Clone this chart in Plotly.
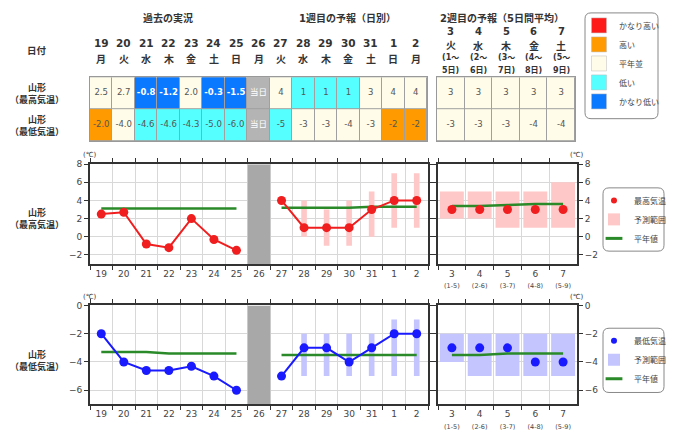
import plotly.graph_objects as go

W, H = 680, 434
FONT = "DejaVu Sans, Noto Sans CJK JP, sans-serif"

# ---- data ----
days = ["19", "20", "21", "22", "23", "24", "25", "26", "27", "28", "29", "30", "31", "1", "2"]
weekdays = ["月", "火", "水", "木", "金", "土", "日", "月", "火", "水", "木", "金", "土", "日", "月"]
today = "26"
n_past = 7

max_temp = [2.5, 2.7, -0.8, -1.2, 2.0, -0.3, -1.5, None, 4, 1, 1, 1, 3, 4, 4]
max_lo = [None, None, None, None, None, None, None, None, None, 0, -1, -1, 0, 1, 1]
max_hi = [None, None, None, None, None, None, None, None, None, 4, 3, 4, 5, 7, 7]
max_normal = [3.1, 3.1, 3.1, 3.1, 3.1, 3.1, 3.1, None, 3.2, 3.2, 3.2, 3.2, 3.3, 3.3, 3.3]

min_temp = [-2.0, -4.0, -4.6, -4.6, -4.3, -5.0, -6.0, None, -5, -3, -3, -4, -3, -2, -2]
min_lo = [None, None, None, None, None, None, None, None, None, -5, -5, -5, -5, -5, -5]
min_hi = [None, None, None, None, None, None, None, None, None, -2, -2, -2, -2, -1, -1]
min_normal = [-3.3, -3.3, -3.3, -3.4, -3.4, -3.4, -3.4, None, -3.5, -3.5, -3.5, -3.5, -3.5, -3.5, -3.5]

week_days = ["3", "4", "5", "6", "7"]
week_wd = ["火", "水", "木", "金", "土"]
week_start = [1, 2, 3, 4, 5]
week_end = [5, 6, 7, 8, 9]

week_max = [3, 3, 3, 3, 3]
week_max_lo = [2, 2, 1, 1, 1]
week_max_hi = [5, 5, 5, 5, 6]
week_max_normal = [3.4, 3.4, 3.5, 3.6, 3.6]

week_min = [-3, -3, -3, -4, -4]
week_min_lo = [-4, -5, -5, -5, -5]
week_min_hi = [-2, -2, -2, -2, -2]
week_min_normal = [-3.5, -3.5, -3.4, -3.4, -3.4]

# class: 0 かなり高い, 1 高い, 2 平年並, 3 低い, 4 かなり低い, 5 当日
class_names = ["かなり高い", "高い", "平年並", "低い", "かなり低い"]
class_colors = ["#ff1a1a", "#ff9a00", "#fffcea", "#55ffff", "#0a78ff", "#b4b4b4"]
max_class = [2, 2, 4, 4, 2, 4, 4, 5, 2, 3, 3, 3, 2, 2, 2]
min_class = [1, 2, 3, 3, 3, 3, 3, 5, 3, 2, 2, 2, 2, 1, 1]
week_max_class = [2, 2, 2, 2, 2]
week_min_class = [2, 2, 2, 2, 2]

MAX_RANGE = [-3, 8]
MIN_RANGE = [-7, 0]
GREEN = "#2a8a2a"


def fx(p):
    return p / W


def fy(p):
    return 1 - p / H


def cell_text(v, i):
    if v is None:
        return "当日"
    return f"{v:.1f}" if i < n_past else f"{v:g}"


def text_color(c):
    return "white" if c in (4, 5) else "#555"


def bold_if(s, c):
    return f"<b>{s}</b>" if c == 4 else s


n = len(class_colors)
scale = []
for i, col in enumerate(class_colors):
    scale += [[i / n, col], [(i + 1) / n, col]]

fig = go.Figure()


# ---- tables ----
def add_table(xa, ya, cats, classes_rows, texts_rows):
    fig.add_trace(go.Heatmap(
        x=cats, y=[0, 1], z=classes_rows, colorscale=scale, zmin=-0.5, zmax=n - 0.5,
        xgap=1, ygap=1, showscale=False, hoverinfo="skip", xaxis=xa, yaxis=ya,
    ))
    xs, ys, ts, cs = [], [], [], []
    for r, (cls_row, txt_row) in enumerate(zip(classes_rows, texts_rows)):
        for c, cl, t in zip(cats, cls_row, txt_row):
            xs.append(c)
            ys.append(r)
            ts.append(bold_if(t, cl))
            cs.append(text_color(cl))
    fig.add_trace(go.Scatter(
        x=xs, y=ys, text=ts, mode="text", textfont=dict(size=8.5, color=cs, family=FONT),
        hoverinfo="skip", showlegend=False, xaxis=xa, yaxis=ya,
    ))


add_table("x", "y", days, [max_class, min_class],
          [[cell_text(v, i) for i, v in enumerate(max_temp)],
           [cell_text(v, i) for i, v in enumerate(min_temp)]])
add_table("x2", "y2", week_days, [week_max_class, week_min_class],
          [[f"{v:g}" for v in week_max], [f"{v:g}" for v in week_min]])


# ---- charts ----
def add_chart(xa_d, ya_d, xa_w, ya_w, vals, lo, hi, normal, wvals, wlo, whi, wnormal,
              yrange, color, band, legend, name):
    # legend-only entries
    fig.add_trace(go.Scatter(x=[None], y=[None], mode="markers", name=name,
                             marker=dict(color=color, size=6), legend=legend,
                             xaxis=xa_d, yaxis=ya_d))
    fig.add_trace(go.Bar(
        x=days, base=lo, y=[None if a is None else b - a for a, b in zip(lo, hi)],
        width=0.25, marker=dict(color=band, line=dict(width=0)), name="予測範囲",
        legend=legend, hoverinfo="skip", xaxis=xa_d, yaxis=ya_d,
    ))
    fig.add_trace(go.Scatter(x=[None], y=[None], mode="markers", name="平年値",
                             marker=dict(symbol="line-ew-open", size=12, color=GREEN,
                                         line=dict(color=GREEN, width=3)),
                             legend=legend, xaxis=xa_d, yaxis=ya_d))
    fig.add_trace(go.Bar(
        x=[today], base=[yrange[0]], y=[yrange[1] - yrange[0]], width=1,
        marker=dict(color="#a8a8a8", line=dict(width=0)), showlegend=False,
        hoverinfo="skip", xaxis=xa_d, yaxis=ya_d,
    ))
    fig.add_trace(go.Scatter(
        x=days, y=normal, mode="lines", line=dict(color=GREEN, width=2.5),
        connectgaps=False, showlegend=False, xaxis=xa_d, yaxis=ya_d,
    ))
    fig.add_trace(go.Scatter(
        x=days, y=vals, mode="lines+markers", connectgaps=False,
        line=dict(color=color, width=2), marker=dict(color=color, size=9),
        showlegend=False, xaxis=xa_d, yaxis=ya_d,
    ))
    fig.add_trace(go.Bar(
        x=week_days, base=wlo, y=[b - a for a, b in zip(wlo, whi)], width=0.86,
        marker=dict(color=band, line=dict(width=0)), showlegend=False,
        hoverinfo="skip", xaxis=xa_w, yaxis=ya_w,
    ))
    fig.add_trace(go.Scatter(
        x=week_days, y=wnormal, mode="lines", line=dict(color=GREEN, width=2.5),
        showlegend=False, xaxis=xa_w, yaxis=ya_w,
    ))
    fig.add_trace(go.Scatter(
        x=week_days, y=wvals, mode="markers", marker=dict(color=color, size=9),
        showlegend=False, xaxis=xa_w, yaxis=ya_w,
    ))


add_chart("x3", "y3", "x4", "y4", max_temp, max_lo, max_hi, max_normal,
          week_max, week_max_lo, week_max_hi, week_max_normal,
          MAX_RANGE, "#f01e1e", "#ffc8c8", "legend", "最高気温")
add_chart("x5", "y5", "x6", "y6", min_temp, min_lo, min_hi, min_normal,
          week_min, week_min_lo, week_min_hi, week_min_normal,
          MIN_RANGE, "#1a1aff", "#c4c4ff", "legend2", "最低気温")

# table colour legend
for name, col in zip(class_names, class_colors):
    fig.add_trace(go.Scatter(
        x=[None], y=[None], mode="markers", name=name, legend="legend3",
        marker=dict(symbol="square", size=15, color=col, line=dict(color="#bbb", width=0.5)),
        xaxis="x", yaxis="y",
    ))

# ---- axes ----
table_x = dict(type="category", showticklabels=False, ticks="", showgrid=False,
               zeroline=False, showline=True, mirror=True, linecolor="#999", linewidth=1)
table_y = dict(range=[1.5, -0.5], showticklabels=False, ticks="", showgrid=False,
               zeroline=False, showline=True, mirror=True, linecolor="#999", linewidth=1)

chart_x = dict(type="category", tickson="boundaries", showgrid=True, gridcolor="#d8d8d8",
               ticks="outside", ticklen=4, tickcolor="#333", showline=True, linecolor="#333",
               linewidth=2, mirror="ticks", zeroline=False,
               tickfont=dict(size=9, color="#444", family=FONT))
chart_y = dict(showgrid=True, gridcolor="#d8d8d8", ticks="outside", ticklen=4,
               tickcolor="#333", showline=True, linecolor="#333", linewidth=2,
               mirror="ticks", zeroline=False, tickfont=dict(size=9, color="#444", family=FONT))

week_ticktext = [f"{d}<br><span style='font-size:6.5px'>({a}-{b})</span>"
                 for d, a, b in zip(week_days, week_start, week_end)]

row_top = [fy(138), fy(73)]
c1 = [fy(262), fy(161)]
c2 = [fy(404), fy(304)]
legend_style = dict(xanchor="left", yanchor="top", bgcolor="rgba(0,0,0,0)",
                    font=dict(size=8, color="#444", family=FONT))

fig.update_layout(
    width=W, height=H, margin=dict(l=0, r=0, t=0, b=0),
    paper_bgcolor="white", plot_bgcolor="white", barmode="overlay",
    font=dict(family=FONT, color="#333"),
    xaxis=dict(table_x, domain=[fx(90), fx(427)], categoryorder="array",
               categoryarray=days, range=[-0.5, len(days) - 0.5], anchor="y"),
    yaxis=dict(table_y, domain=row_top, anchor="x"),
    xaxis2=dict(table_x, domain=[fx(437), fx(575)], categoryorder="array",
                categoryarray=week_days, range=[-0.5, len(week_days) - 0.5], anchor="y2"),
    yaxis2=dict(table_y, domain=row_top, anchor="x2"),
    xaxis3=dict(chart_x, domain=[fx(90), fx(428)], categoryorder="array",
                categoryarray=days, range=[-0.5, len(days) - 0.5], anchor="y3"),
    yaxis3=dict(chart_y, domain=c1, range=MAX_RANGE, tickvals=[-2, 0, 2, 4, 6, 8], anchor="x3"),
    xaxis4=dict(chart_x, domain=[fx(438), fx(577)], categoryorder="array",
                categoryarray=week_days, range=[-0.5, len(week_days) - 0.5],
                tickvals=week_days, ticktext=week_ticktext, anchor="y4"),
    yaxis4=dict(chart_y, domain=c1, range=MAX_RANGE, tickvals=[-2, 0, 2, 4, 6, 8],
                side="right", anchor="x4"),
    xaxis5=dict(chart_x, domain=[fx(90), fx(428)], categoryorder="array",
                categoryarray=days, range=[-0.5, len(days) - 0.5], anchor="y5"),
    yaxis5=dict(chart_y, domain=c2, range=MIN_RANGE, tickvals=[-6, -4, -2, 0], anchor="x5"),
    xaxis6=dict(chart_x, domain=[fx(438), fx(577)], categoryorder="array",
                categoryarray=week_days, range=[-0.5, len(week_days) - 0.5],
                tickvals=week_days, ticktext=week_ticktext, anchor="y6"),
    yaxis6=dict(chart_y, domain=c2, range=MIN_RANGE, tickvals=[-6, -4, -2, 0],
                side="right", anchor="x6"),
    legend=dict(legend_style, x=fx(594), y=fy(183)),
    legend2=dict(legend_style, x=fx(594), y=fy(325)),
    legend3=dict(legend_style, x=fx(579), y=fy(6)),
    showlegend=True,
)


def rounded_box(x0, y0, x1, y1, r=6):
    rx, ry = r / W, r / H
    X0, X1, Y0, Y1 = fx(x0), fx(x1), fy(y1), fy(y0)
    return (f"M {X0 + rx} {Y1} L {X1 - rx} {Y1} Q {X1} {Y1} {X1} {Y1 - ry} "
            f"L {X1} {Y0 + ry} Q {X1} {Y0} {X1 - rx} {Y0} L {X0 + rx} {Y0} "
            f"Q {X0} {Y0} {X0} {Y0 + ry} L {X0} {Y1 - ry} Q {X0} {Y1} {X0 + rx} {Y1} Z")


shapes = [
    dict(type="rect", xref="x domain", yref="y domain", x0=0, x1=1, y0=0, y1=1,
         fillcolor="#a0a0a0", line=dict(width=0), layer="below"),
    dict(type="rect", xref="x2 domain", yref="y2 domain", x0=0, x1=1, y0=0, y1=1,
         fillcolor="#a0a0a0", line=dict(width=0), layer="below"),
]
for box in [(585, 8, 658, 115), (603, 185, 664, 249), (603, 327, 664, 392)]:
    shapes.append(dict(type="path", xref="paper", yref="paper", path=rounded_box(*box),
                       line=dict(color="#888", width=1), fillcolor="rgba(0,0,0,0)"))
fig.update_layout(shapes=shapes)

ann = []


def note(x, y, text, size=10, xref="paper", yref="paper", color="#333"):
    ann.append(dict(x=x, y=y, xref=xref, yref=yref, text=text, showarrow=False,
                    xanchor="center", yanchor="middle",
                    font=dict(size=size, color=color, family=FONT)))


note(fx(168), fy(13), "<b>過去の実況</b>")
note(fx(347), fy(13), "<b>1週目の予報（日別）</b>")
note(fx(502), fy(13), "<b>2週目の予報（5日間平均）</b>")
note(fx(37), fy(46), "<b>日付</b>", size=9.5)
note(fx(37), 0, "<b>山形</b><br><b>（最高気温）</b>", size=9, yref="y")
note(fx(37), 1, "<b>山形</b><br><b>（最低気温）</b>", size=9, yref="y")
note(fx(37), fy(216), "<b>山形</b><br><b>（最高気温）</b>", size=9)
note(fx(37), fy(360), "<b>山形</b><br><b>（最低気温）</b>", size=9)

# category axes: annotation x given as category index
for i, (d, wd) in enumerate(zip(days, weekdays)):
    note(i, fy(38), f"<b>{d}</b>", size=10.5, xref="x")
    note(i, fy(55), f"<b>{wd}</b>", size=10, xref="x")
for i, (d, wd, a, b) in enumerate(zip(week_days, week_wd, week_start, week_end)):
    note(i, fy(27), f"<b>{d}</b>", size=10, xref="x2")
    note(i, fy(41), f"<b>{wd}</b>", size=10, xref="x2")
    note(i, fy(53), f"<b>({a}～</b>", size=8, xref="x2")
    note(i, fy(66), f"<b>{b}日)</b>", size=8, xref="x2")

for ytop in (152, 295):
    note(fx(90), fy(ytop), "(℃)", size=7)
    note(fx(577), fy(ytop), "(℃)", size=7)

fig.update_layout(annotations=ann)

fig.write_html("out.html", config={"displayModeBar": False},
               post_script="document.body.style.margin='0';")
